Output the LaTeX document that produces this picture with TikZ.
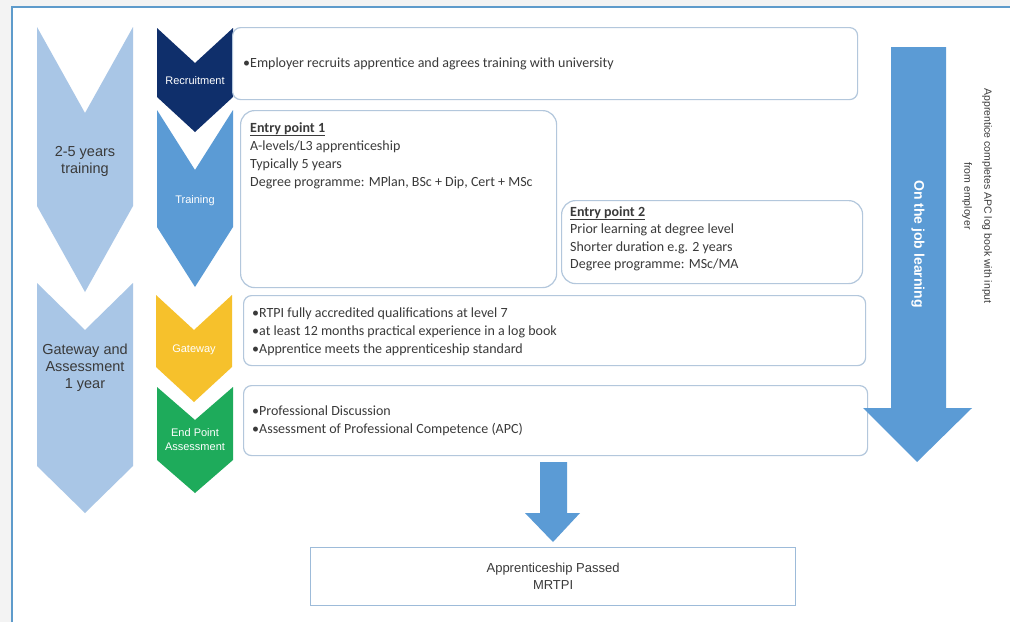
\documentclass[tikz,border=0pt]{standalone}
\usepackage{fontspec}
\setmainfont{Carlito}
\newfontfamily\arialfont{Liberation Sans}
\usetikzlibrary{positioning}
\definecolor{framecol}{HTML}{5E9BCB}
\definecolor{paper}{HTML}{F3F3F3}
\definecolor{lightchev}{HTML}{A9C6E6}
\definecolor{navychev}{HTML}{0F2F6B}
\definecolor{bluechev}{HTML}{5B9BD5}
\definecolor{goldchev}{HTML}{F6C12C}
\definecolor{greenchev}{HTML}{1EAB5B}
\definecolor{boxline}{HTML}{B3C7DC}
\definecolor{passline}{HTML}{9DBBD9}
\definecolor{textgrey}{HTML}{3A3A3A}
\tikzset{
    light stage/.style={fill=lightchev},
    recruit stage/.style={fill=navychev},
    train stage/.style={fill=bluechev},
    gate stage/.style={fill=goldchev},
    epa stage/.style={fill=greenchev},
    block arrow/.style={fill=bluechev},
    info box/.style={draw=boxline,line width=1.2pt,rounded corners=8pt,fill=white,
        anchor=north west,inner sep=0pt},
    entry box/.style={info box,rounded corners=14pt},
    pass box/.style={draw=passline,line width=1.2pt,fill=white,anchor=north west,inner sep=0pt},
    box text/.style={font=\fontsize{14}{18}\selectfont,text=textgrey,align=left,inner sep=0pt},
    big label/.style={font=\arialfont\fontsize{14.5}{17}\selectfont,text=textgrey,align=center},
    stage label/.style={font=\arialfont\fontsize{11}{14}\selectfont,text=white,align=center,inner sep=0pt}
}
\begin{document}
\begin{tikzpicture}[x=1pt,y=-1pt]
    \useasboundingbox (0,0) rectangle (1010,622);
    \fill[white] (0,0) rectangle (1010,622);
    \fill[paper] (0,0) rectangle (12,622);
    \fill[paper] (0,0) rectangle (1010,7);
    \draw[framecol,line width=1.3pt] (12,622) -- (12,7) -- (1010,7);

    % duration chevrons
    \fill[light stage] (37,27) -- (85,113) -- (133,27) -- (133,206) -- (85,292) -- (37,206) -- cycle;
    \fill[light stage] (37,283) -- (85,330) -- (133,283) -- (133,466) -- (85,513) -- (37,466) -- cycle;
    \node[big label] (years) at (85,161) {2-5 years\\training};
    \node[big label] (gateyear) at (85,368) {Gateway and\\Assessment\\1 year};

    % stage chevrons
    \fill[recruit stage] (157,28) -- (195,63) -- (233,28) -- (233,97) -- (195,132) -- (157,97) -- cycle;
    \fill[train stage] (157,110) -- (195,170) -- (233,110) -- (233,227) -- (195,287) -- (157,227) -- cycle;
    \fill[gate stage] (156,295) -- (194,330) -- (232,295) -- (232,367) -- (194,402) -- (156,367) -- cycle;
    \fill[epa stage] (157,387) -- (195,420) -- (233,387) -- (233,460) -- (195,493) -- (157,460) -- cycle;
    \node[stage label] (recruit) at (195,81) {Recruitment};
    \node[stage label] (train) at (195,201) {Training};
    \node[stage label] (gate) at (194,350) {Gateway};
    \node[stage label] (epa) at (195,440) {End Point\\Assessment};

    % boxes
    \node[info box, minimum width=625pt, minimum height=72pt] (recbox) at (232,27) {};
    \node[entry box, minimum width=316pt, minimum height=177pt] (entry1) at (240,110) {};
    \node[entry box, minimum width=301pt, minimum height=83pt] (entry2) at (561,200) {};
    \node[info box, minimum width=622pt, minimum height=70pt] (gatebox) at (243,295) {};
    \node[info box, minimum width=624pt, minimum height=70pt] (epabox) at (243,385) {};

    \node[box text, right=11pt of recbox.west] (rectext)
        {•Employer recruits apprentice and agrees training with university};
    \node[box text, anchor=north west] (entry1text) at ([shift={(10,12)}]entry1.north west)
        {\textbf{\underline{Entry point 1}}\\A-levels/L3 apprenticeship\\Typically 5 years\\
         Degree programme: MPlan, BSc + Dip, Cert + MSc};
    \node[box text, anchor=north west, font=\fontsize{14}{17.5}\selectfont] (entry2text)
        at ([shift={(9,6)}]entry2.north west)
        {\textbf{\underline{Entry point 2}}\\Prior learning at degree level\\
         Shorter duration e.g. 2 years\\Degree programme: MSc/MA};
    \node[box text, right=9pt of gatebox.west, yshift=-1pt] (gatetext)
        {•RTPI fully accredited qualifications at level 7\\
         •at least 12 months practical experience in a log book\\
         •Apprentice meets the apprenticeship standard};
    \node[box text, right=9pt of epabox.west] (epatext)
        {•Professional Discussion\\•Assessment of Professional Competence (APC)};

    % on the job arrow
    \fill[block arrow] (891,47) -- (946,47) -- (946,408) -- (972,408) -- (917,462)
        -- (863,408) -- (891,408) -- cycle;
    \node[rotate=-90, text=white, font=\arialfont\bfseries\fontsize{14}{16}\selectfont] (jobtext)
        at (918,244) {On the job learning};
    \node[rotate=-90, text=textgrey, align=center, font=\arialfont\fontsize{10.5}{20}\selectfont]
        (apctext) at (977,196) {Apprentice completes APC log book with input\\from employer};

    % result
    \fill[block arrow] (540,462) -- (567,462) -- (567,513) -- (580,513) -- (553,542)
        -- (525,513) -- (540,513) -- cycle;
    \node[pass box, minimum width=485pt, minimum height=58pt] (passbox) at (310,547) {};
    \node[big label, font=\arialfont\fontsize{13}{17}\selectfont] (passtext) at (passbox.center)
        {Apprenticeship Passed\\MRTPI};
\end{tikzpicture}
\end{document}
